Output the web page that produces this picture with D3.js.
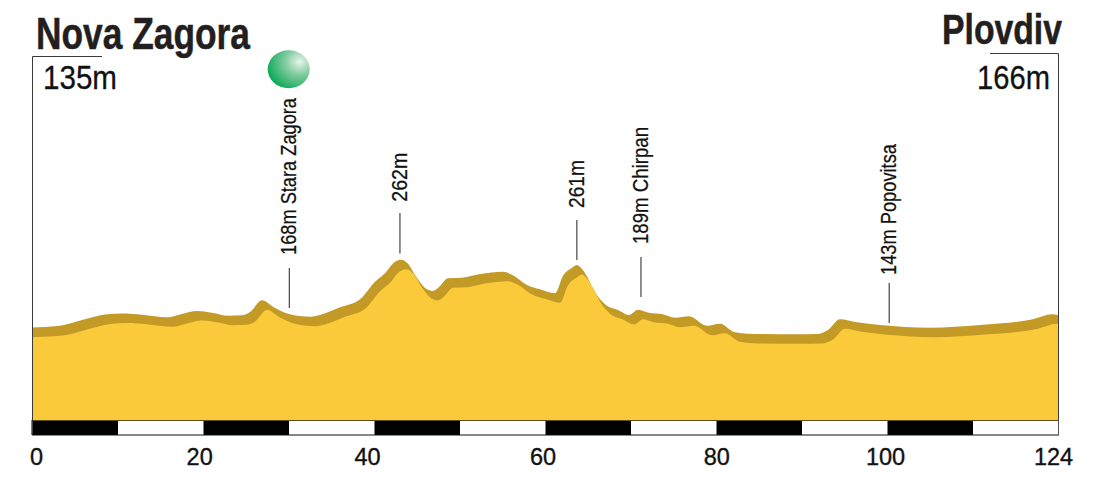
<!DOCTYPE html>
<html>
<head>
<meta charset="utf-8">
<script src="https://cdn.jsdelivr.net/npm/d3@7"></script>
<style>
html,body{margin:0;padding:0;background:#fff;overflow:hidden}
svg{display:block}
</style>
</head>
<body>
<svg id="chart" width="1095" height="484"></svg>
<script>
const distanceKm = [0,3.14,6.04,8.82,10.88,13.29,16.32,18.13,19.94,21.75,23.69,25.38,26.35,27.8,29.13,30.58,31.54,33.6,35.17,37.23,39.64,41.46,42.66,43.87,44.6,45.32,46.53,47.74,48.46,49.19,50.28,51.97,54.15,56.92,58.01,59.83,61.4,63.21,64.18,65.27,65.87,66.47,68.41,69.49,70.82,72.15,73.24,74.69,76.14,77.71,79.41,81.58,83.15,84.96,86.54,92.22,94.87,96.2,97.65,99.71,102.49,108.53,114.57,120.98,123.28,124];
const elevationM = [135,137.8,149,159.3,161.2,159,154.1,160.3,165.9,162.7,157.1,157.8,164,185.9,173.9,162.7,158.4,155.2,160.3,172.8,187.8,220.8,236.5,258.2,262,256.3,227.7,206.5,203.4,210.8,227.1,228.3,235.2,239.5,233.9,214.6,206.5,199,232,247,252,244.5,192.7,175.8,167.8,158.4,168.3,162.2,160.3,153.4,156,138.4,142.1,126,123.4,122.3,122.8,130.3,150.4,144.7,139.7,134.6,139.7,150.4,159.7,158.4];
const tickLabels = ["0","20","40","60","80","100","124"];
const tickKm = [0.48,20.2,40.5,61.7,82.7,103.1,123.4];
const scaleSegments = 12;
const calloutLabels = ["168m Stara Zagora","262m","261m","189m Chirpan","143m Popovitsa"];
const calloutKm = [31.1,44.47,65.85,73.6,103.6];
const calloutLineTopM = [246.4,349.4,336.3,267,218.3];
const calloutLineBottomM = [171.5,273.6,261.4,192.1,143.4];
const calloutTextStartM = [270.8,370.6,358.8,291.4,233.3];
const startName = "Nova Zagora", finishName = "Plovdiv";
const startElevation = "135m", finishElevation = "166m";

const W = 1095, H = 484;
const L = 32, R = 1058, B = 420, T = 57;
const dropX = 5, dropY = 9.5;
const FONT = "'Liberation Sans',sans-serif";
const calloutFit = [157,49,48,117,131];
const svg = d3.select("#chart");
const x = d3.scaleLinear().domain([0,124]).range([L,R]);
const y = d3.scaleLinear().domain([-38.2,641.6]).range([B,T]);

const defs = svg.append("defs");
defs.append("clipPath").attr("id","plot").append("rect")
  .attr("x",L).attr("y",T-10).attr("width",R-L).attr("height",B-T+10);
const grad = defs.append("radialGradient").attr("id","ball")
  .attr("cx",0.76).attr("cy",0.3).attr("r",0.85).attr("fx",0.76).attr("fy",0.3);
grad.append("stop").attr("offset",0).attr("stop-color","#e8f4ec");
grad.append("stop").attr("offset",0.4).attr("stop-color","#84cca1");
grad.append("stop").attr("offset",1).attr("stop-color","#00a651");

const profile = distanceKm.map((d,i)=>({km:d,m:elevationM[i]}));
const area = d3.area().x(d=>x(d.km)).y0(B+2).y1(d=>y(d.m)).curve(d3.curveMonotoneX);
const g = svg.append("g").attr("clip-path","url(#plot)");
g.append("path").datum(profile).attr("d",area).attr("fill","#c29a25");
g.append("g").attr("transform",`translate(${dropX},0)`)
 .append("path").datum([{km:-2,m:elevationM[0]},...profile])
 .attr("d",d3.area().x(d=>x(d.km)).y0(B+2).y1(d=>y(d.m)+dropY).curve(d3.curveMonotoneX))
 .attr("fill","#fbca3a");

// frame
const frame = svg.append("g").attr("stroke","#3a3a3a").attr("stroke-width",1).attr("fill","none");
frame.append("path").attr("d",`M${L+.5},${B}V56.5H102`);
frame.append("path").attr("d",`M${R+.5},${B}V53.5H990`);

// scale bar
const seg = d3.range(scaleSegments);
const segX = d3.scaleBand().domain(seg).range([L+.5,R+.5]);
svg.append("g").selectAll("rect").data(seg).join("rect")
  .attr("x",d=>segX(d)).attr("y",B+.5).attr("width",segX.bandwidth()).attr("height",14.5)
  .attr("fill",d=>d%2?"#fff":"#000");
svg.append("path").attr("d",`M${L},${B+.5}H${R+1}`).attr("stroke","#5a4d20").attr("stroke-width",1);
svg.append("path").attr("d",`M${L},${B+15}H${R+1}`).attr("stroke","#111").attr("stroke-width",1);
svg.append("path").attr("d",`M${R+.5},${B}V${B+15}`).attr("stroke","#555").attr("stroke-width",1);
svg.append("path").attr("d",`M${L},${B}V${B+15}`).attr("stroke","#000").attr("stroke-width",1);

// axis labels
const axis = d3.axisBottom(x).tickValues(tickKm).tickSize(0).tickPadding(0)
  .tickFormat((d,i)=>tickLabels[i]);
const ax = svg.append("g").attr("transform",`translate(0,448)`).call(axis);
ax.select(".domain").remove();
ax.selectAll("text").attr("font-family",FONT).attr("font-size",23.5)
  .attr("fill","#111").attr("stroke","#111").attr("stroke-width",0.35).attr("dy","0.71em").attr("y",0);

// callouts
const callouts = calloutLabels.map((t,i)=>({t,i,km:calloutKm[i],top:calloutLineTopM[i],bot:calloutLineBottomM[i],start:calloutTextStartM[i]}));
const cg = svg.append("g");
cg.selectAll("line").data(callouts).join("line")
  .attr("x1",d=>x(d.km)).attr("x2",d=>x(d.km))
  .attr("y1",d=>y(d.top)).attr("y2",d=>y(d.bot))
  .attr("stroke","#444").attr("stroke-width",1.2);
cg.selectAll("text").data(callouts).join("text")
  .attr("transform",d=>`translate(${x(d.km)+7},${y(d.start)}) rotate(-90)`)
  .attr("font-family",FONT).attr("font-size",22.5).attr("fill","#111")
  .attr("stroke","#111").attr("stroke-width",0.25)
  .attr("textLength",d=>calloutFit[d.i]).attr("lengthAdjust","spacingAndGlyphs")
  .text(d=>d.t);

// ball
svg.append("ellipse").attr("cx",288.7).attr("cy",69.3).attr("rx",21).attr("ry",19).attr("fill","url(#ball)");

// headings
function fitted(txt,px,py,size,len,weight){
  return svg.append("text").attr("x",px).attr("y",py).attr("font-family",FONT).attr("font-weight",weight)
    .attr("font-size",size).attr("fill","#231f20")
    .attr("textLength",len).attr("lengthAdjust","spacingAndGlyphs").text(txt);
}
fitted(startName,36,49,44,214,700).attr("stroke","#231f20").attr("stroke-width",0.5);
fitted(finishName,942,44,43,120,700).attr("stroke","#231f20").attr("stroke-width",0.5);
fitted(startElevation,43,89,33,74,400).attr("fill","#111").attr("stroke","#111").attr("stroke-width",0.3);
fitted(finishElevation,977,89,33,73,400).attr("fill","#111").attr("stroke","#111").attr("stroke-width",0.3);
</script>
</body>
</html>
